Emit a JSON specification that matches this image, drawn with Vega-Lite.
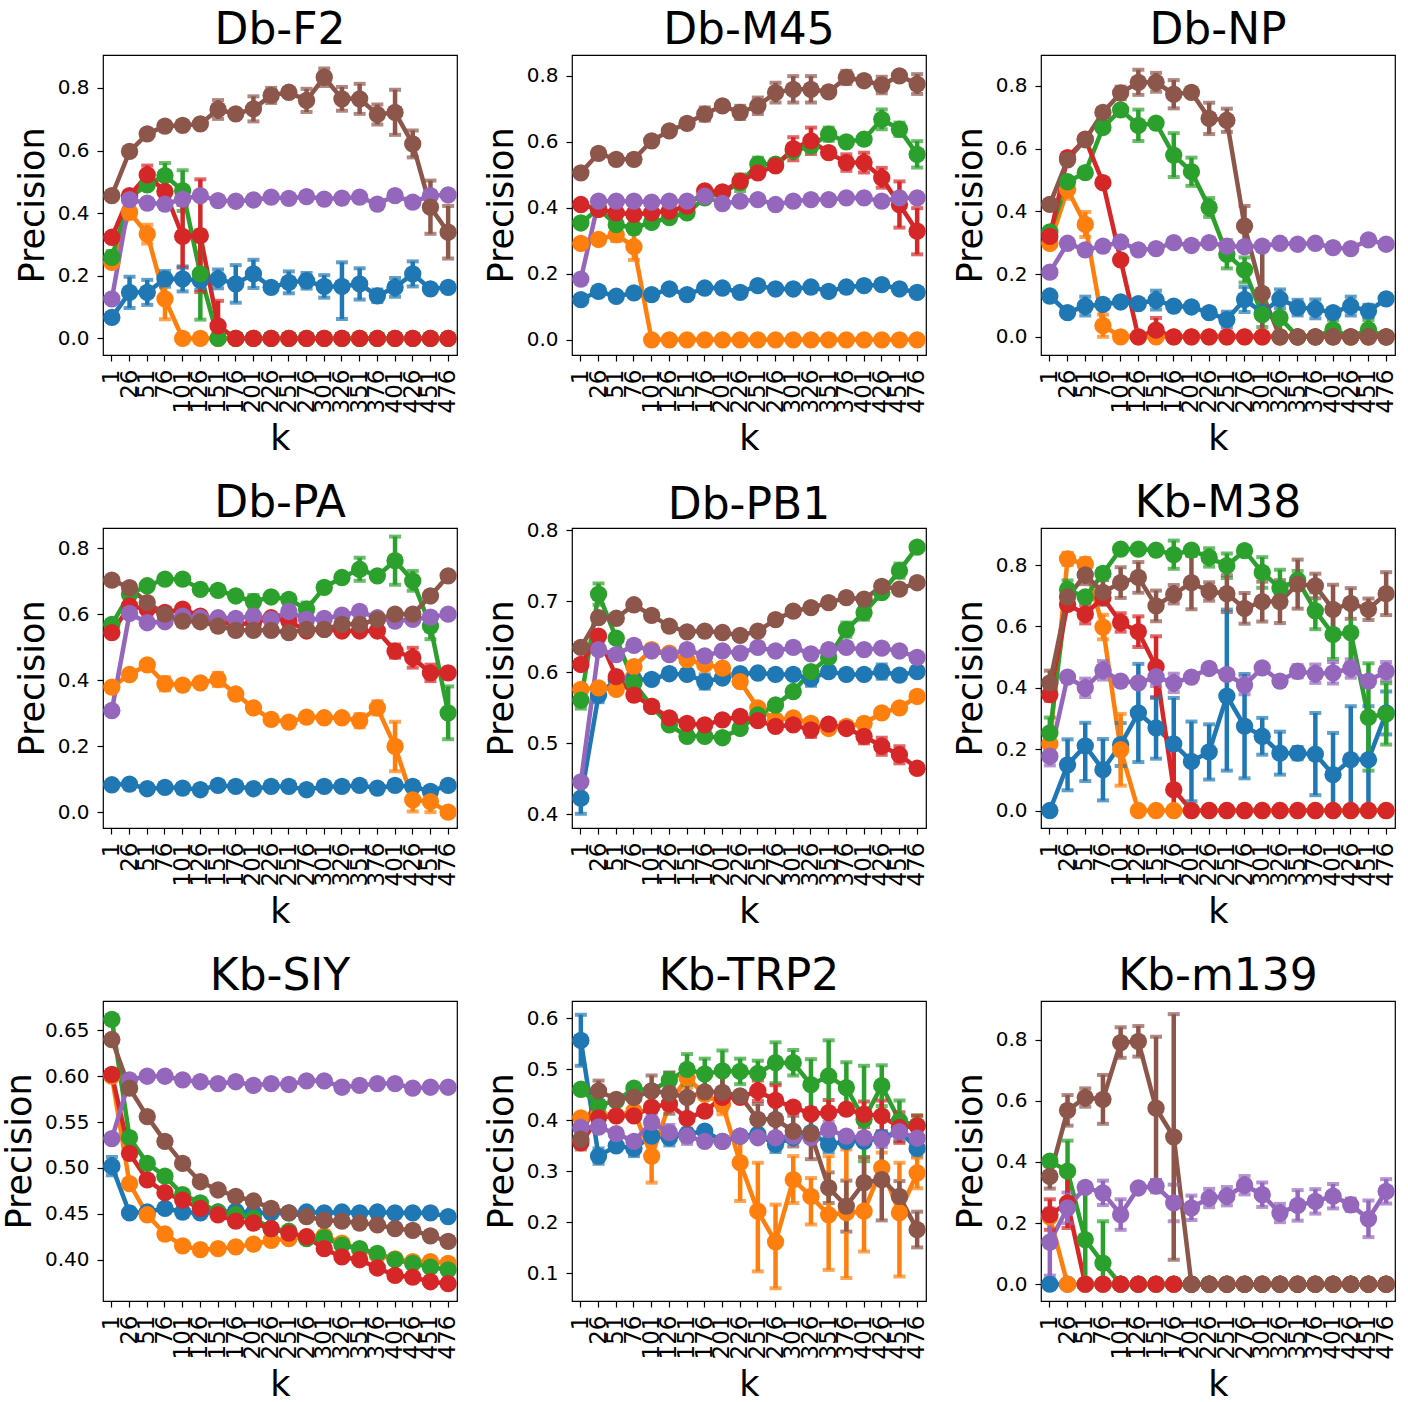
{"$schema":"https://vega.github.io/schema/vega-lite/v6.json","background":"white","padding":{"left":1,"top":8,"right":5,"bottom":3},
"data":{"values":[
{"p":1,"s":1,"k":1,"v":0.067},{"p":1,"s":1,"k":26,"v":0.147,"lo":0.097,"hi":0.197},{"p":1,"s":1,"k":51,"v":0.147,"lo":0.107,"hi":0.187},{"p":1,"s":1,"k":76,"v":0.19,"lo":0.165,"hi":0.215},{"p":1,"s":1,"k":101,"v":0.19,"lo":0.15,"hi":0.23},{"p":1,"s":1,"k":126,"v":0.185,"lo":0.155,"hi":0.215},{"p":1,"s":1,"k":151,"v":0.19,"lo":0.16,"hi":0.22},{"p":1,"s":1,"k":176,"v":0.174,"lo":0.114,"hi":0.234},{"p":1,"s":1,"k":201,"v":0.206,"lo":0.161,"hi":0.251},{"p":1,"s":1,"k":226,"v":0.163},{"p":1,"s":1,"k":251,"v":0.179,"lo":0.144,"hi":0.214},{"p":1,"s":1,"k":276,"v":0.184,"lo":0.159,"hi":0.209},{"p":1,"s":1,"k":301,"v":0.166,"lo":0.13,"hi":0.202},{"p":1,"s":1,"k":326,"v":0.166,"lo":0.062,"hi":0.243},{"p":1,"s":1,"k":351,"v":0.174,"lo":0.124,"hi":0.224},{"p":1,"s":1,"k":376,"v":0.136,"lo":0.116,"hi":0.156},{"p":1,"s":1,"k":401,"v":0.163,"lo":0.133,"hi":0.193},{"p":1,"s":1,"k":426,"v":0.206,"lo":0.166,"hi":0.246},{"p":1,"s":1,"k":451,"v":0.158},{"p":1,"s":1,"k":476,"v":0.163},
{"p":1,"s":2,"k":1,"v":0.243},{"p":1,"s":2,"k":26,"v":0.403,"lo":0.383,"hi":0.423},{"p":1,"s":2,"k":51,"v":0.333,"lo":0.303,"hi":0.363},{"p":1,"s":2,"k":76,"v":0.126,"lo":0.061,"hi":0.191},{"p":1,"s":2,"k":101,"v":0},{"p":1,"s":2,"k":126,"v":0},{"p":1,"s":2,"k":151,"v":0},{"p":1,"s":2,"k":176,"v":0},{"p":1,"s":2,"k":201,"v":0},{"p":1,"s":2,"k":226,"v":0},{"p":1,"s":2,"k":251,"v":0},{"p":1,"s":2,"k":276,"v":0},{"p":1,"s":2,"k":301,"v":0},{"p":1,"s":2,"k":326,"v":0},{"p":1,"s":2,"k":351,"v":0},{"p":1,"s":2,"k":376,"v":0},{"p":1,"s":2,"k":401,"v":0},{"p":1,"s":2,"k":426,"v":0},{"p":1,"s":2,"k":451,"v":0},{"p":1,"s":2,"k":476,"v":0},
{"p":1,"s":3,"k":1,"v":0.259,"lo":0.239,"hi":0.279},{"p":1,"s":3,"k":26,"v":0.45},{"p":1,"s":3,"k":51,"v":0.49},{"p":1,"s":3,"k":76,"v":0.52,"lo":0.48,"hi":0.56},{"p":1,"s":3,"k":101,"v":0.472,"lo":0.407,"hi":0.537},{"p":1,"s":3,"k":126,"v":0.206,"lo":0.06,"hi":0.345},{"p":1,"s":3,"k":151,"v":0},{"p":1,"s":3,"k":176,"v":0},{"p":1,"s":3,"k":201,"v":0},{"p":1,"s":3,"k":226,"v":0},{"p":1,"s":3,"k":251,"v":0},{"p":1,"s":3,"k":276,"v":0},{"p":1,"s":3,"k":301,"v":0},{"p":1,"s":3,"k":326,"v":0},{"p":1,"s":3,"k":351,"v":0},{"p":1,"s":3,"k":376,"v":0},{"p":1,"s":3,"k":401,"v":0},{"p":1,"s":3,"k":426,"v":0},{"p":1,"s":3,"k":451,"v":0},{"p":1,"s":3,"k":476,"v":0},
{"p":1,"s":4,"k":1,"v":0.323},{"p":1,"s":4,"k":26,"v":0.456},{"p":1,"s":4,"k":51,"v":0.522,"lo":0.492,"hi":0.552},{"p":1,"s":4,"k":76,"v":0.469,"lo":0.429,"hi":0.509},{"p":1,"s":4,"k":101,"v":0.326,"lo":0.226,"hi":0.426},{"p":1,"s":4,"k":126,"v":0.328,"lo":0.148,"hi":0.508},{"p":1,"s":4,"k":151,"v":0.04,"lo":0,"hi":0.12},{"p":1,"s":4,"k":176,"v":0},{"p":1,"s":4,"k":201,"v":0},{"p":1,"s":4,"k":226,"v":0},{"p":1,"s":4,"k":251,"v":0},{"p":1,"s":4,"k":276,"v":0},{"p":1,"s":4,"k":301,"v":0},{"p":1,"s":4,"k":326,"v":0},{"p":1,"s":4,"k":351,"v":0},{"p":1,"s":4,"k":376,"v":0},{"p":1,"s":4,"k":401,"v":0},{"p":1,"s":4,"k":426,"v":0},{"p":1,"s":4,"k":451,"v":0},{"p":1,"s":4,"k":476,"v":0},
{"p":1,"s":5,"k":1,"v":0.126},{"p":1,"s":5,"k":26,"v":0.443},{"p":1,"s":5,"k":51,"v":0.432},{"p":1,"s":5,"k":76,"v":0.429},{"p":1,"s":5,"k":101,"v":0.445},{"p":1,"s":5,"k":126,"v":0.456},{"p":1,"s":5,"k":151,"v":0.44},{"p":1,"s":5,"k":176,"v":0.438},{"p":1,"s":5,"k":201,"v":0.442},{"p":1,"s":5,"k":226,"v":0.451},{"p":1,"s":5,"k":251,"v":0.447},{"p":1,"s":5,"k":276,"v":0.453},{"p":1,"s":5,"k":301,"v":0.445},{"p":1,"s":5,"k":326,"v":0.448},{"p":1,"s":5,"k":351,"v":0.451},{"p":1,"s":5,"k":376,"v":0.429},{"p":1,"s":5,"k":401,"v":0.456},{"p":1,"s":5,"k":426,"v":0.435},{"p":1,"s":5,"k":451,"v":0.456},{"p":1,"s":5,"k":476,"v":0.458},
{"p":1,"s":6,"k":1,"v":0.456},{"p":1,"s":6,"k":26,"v":0.597},{"p":1,"s":6,"k":51,"v":0.653},{"p":1,"s":6,"k":76,"v":0.678},{"p":1,"s":6,"k":101,"v":0.68},{"p":1,"s":6,"k":126,"v":0.685},{"p":1,"s":6,"k":151,"v":0.731,"lo":0.701,"hi":0.761},{"p":1,"s":6,"k":176,"v":0.717},{"p":1,"s":6,"k":201,"v":0.733,"lo":0.693,"hi":0.773},{"p":1,"s":6,"k":226,"v":0.776,"lo":0.752,"hi":0.8},{"p":1,"s":6,"k":251,"v":0.786},{"p":1,"s":6,"k":276,"v":0.76,"lo":0.723,"hi":0.797},{"p":1,"s":6,"k":301,"v":0.834,"lo":0.806,"hi":0.862},{"p":1,"s":6,"k":326,"v":0.765,"lo":0.727,"hi":0.803},{"p":1,"s":6,"k":351,"v":0.765,"lo":0.717,"hi":0.813},{"p":1,"s":6,"k":376,"v":0.715,"lo":0.683,"hi":0.747},{"p":1,"s":6,"k":401,"v":0.722,"lo":0.65,"hi":0.794},{"p":1,"s":6,"k":426,"v":0.621,"lo":0.578,"hi":0.664},{"p":1,"s":6,"k":451,"v":0.419,"lo":0.334,"hi":0.504},{"p":1,"s":6,"k":476,"v":0.339,"lo":0.255,"hi":0.423},
{"p":2,"s":1,"k":1,"v":0.122},{"p":2,"s":1,"k":26,"v":0.147},{"p":2,"s":1,"k":51,"v":0.132},{"p":2,"s":1,"k":76,"v":0.142},{"p":2,"s":1,"k":101,"v":0.137},{"p":2,"s":1,"k":126,"v":0.154},{"p":2,"s":1,"k":151,"v":0.137},{"p":2,"s":1,"k":176,"v":0.157},{"p":2,"s":1,"k":201,"v":0.157},{"p":2,"s":1,"k":226,"v":0.144},{"p":2,"s":1,"k":251,"v":0.164},{"p":2,"s":1,"k":276,"v":0.154},{"p":2,"s":1,"k":301,"v":0.154},{"p":2,"s":1,"k":326,"v":0.16},{"p":2,"s":1,"k":351,"v":0.147},{"p":2,"s":1,"k":376,"v":0.16},{"p":2,"s":1,"k":401,"v":0.164},{"p":2,"s":1,"k":426,"v":0.167},{"p":2,"s":1,"k":451,"v":0.154},{"p":2,"s":1,"k":476,"v":0.144},
{"p":2,"s":2,"k":1,"v":0.292},{"p":2,"s":2,"k":26,"v":0.304},{"p":2,"s":2,"k":51,"v":0.319,"lo":0.299,"hi":0.339},{"p":2,"s":2,"k":76,"v":0.282,"lo":0.242,"hi":0.322},{"p":2,"s":2,"k":101,"v":0},{"p":2,"s":2,"k":126,"v":0},{"p":2,"s":2,"k":151,"v":0},{"p":2,"s":2,"k":176,"v":0},{"p":2,"s":2,"k":201,"v":0},{"p":2,"s":2,"k":226,"v":0},{"p":2,"s":2,"k":251,"v":0},{"p":2,"s":2,"k":276,"v":0},{"p":2,"s":2,"k":301,"v":0},{"p":2,"s":2,"k":326,"v":0},{"p":2,"s":2,"k":351,"v":0},{"p":2,"s":2,"k":376,"v":0},{"p":2,"s":2,"k":401,"v":0},{"p":2,"s":2,"k":426,"v":0},{"p":2,"s":2,"k":451,"v":0},{"p":2,"s":2,"k":476,"v":0},
{"p":2,"s":3,"k":1,"v":0.354},{"p":2,"s":3,"k":26,"v":0.397},{"p":2,"s":3,"k":51,"v":0.349},{"p":2,"s":3,"k":76,"v":0.339},{"p":2,"s":3,"k":101,"v":0.356},{"p":2,"s":3,"k":126,"v":0.37},{"p":2,"s":3,"k":151,"v":0.385},{"p":2,"s":3,"k":176,"v":0.43},{"p":2,"s":3,"k":201,"v":0.446},{"p":2,"s":3,"k":226,"v":0.476,"lo":0.451,"hi":0.501},{"p":2,"s":3,"k":251,"v":0.532,"lo":0.512,"hi":0.552},{"p":2,"s":3,"k":276,"v":0.532},{"p":2,"s":3,"k":301,"v":0.572},{"p":2,"s":3,"k":326,"v":0.587},{"p":2,"s":3,"k":351,"v":0.623,"lo":0.603,"hi":0.643},{"p":2,"s":3,"k":376,"v":0.6},{"p":2,"s":3,"k":401,"v":0.608},{"p":2,"s":3,"k":426,"v":0.668,"lo":0.638,"hi":0.698},{"p":2,"s":3,"k":451,"v":0.638,"lo":0.618,"hi":0.658},{"p":2,"s":3,"k":476,"v":0.562,"lo":0.522,"hi":0.602},
{"p":2,"s":4,"k":1,"v":0.41},{"p":2,"s":4,"k":26,"v":0.395},{"p":2,"s":4,"k":51,"v":0.385},{"p":2,"s":4,"k":76,"v":0.38},{"p":2,"s":4,"k":101,"v":0.385},{"p":2,"s":4,"k":126,"v":0.39},{"p":2,"s":4,"k":151,"v":0.405},{"p":2,"s":4,"k":176,"v":0.451},{"p":2,"s":4,"k":201,"v":0.448},{"p":2,"s":4,"k":226,"v":0.481},{"p":2,"s":4,"k":251,"v":0.506},{"p":2,"s":4,"k":276,"v":0.527},{"p":2,"s":4,"k":301,"v":0.579,"lo":0.544,"hi":0.614},{"p":2,"s":4,"k":326,"v":0.603,"lo":0.563,"hi":0.643},{"p":2,"s":4,"k":351,"v":0.567},{"p":2,"s":4,"k":376,"v":0.537,"lo":0.512,"hi":0.562},{"p":2,"s":4,"k":401,"v":0.537,"lo":0.507,"hi":0.567},{"p":2,"s":4,"k":426,"v":0.491,"lo":0.461,"hi":0.521},{"p":2,"s":4,"k":451,"v":0.41,"lo":0.34,"hi":0.48},{"p":2,"s":4,"k":476,"v":0.329,"lo":0.259,"hi":0.399},
{"p":2,"s":5,"k":1,"v":0.184},{"p":2,"s":5,"k":26,"v":0.42},{"p":2,"s":5,"k":51,"v":0.42},{"p":2,"s":5,"k":76,"v":0.42},{"p":2,"s":5,"k":101,"v":0.417},{"p":2,"s":5,"k":126,"v":0.42},{"p":2,"s":5,"k":151,"v":0.42},{"p":2,"s":5,"k":176,"v":0.435},{"p":2,"s":5,"k":201,"v":0.413},{"p":2,"s":5,"k":226,"v":0.42},{"p":2,"s":5,"k":251,"v":0.425},{"p":2,"s":5,"k":276,"v":0.41},{"p":2,"s":5,"k":301,"v":0.42},{"p":2,"s":5,"k":326,"v":0.425},{"p":2,"s":5,"k":351,"v":0.425},{"p":2,"s":5,"k":376,"v":0.43},{"p":2,"s":5,"k":401,"v":0.43},{"p":2,"s":5,"k":426,"v":0.42},{"p":2,"s":5,"k":451,"v":0.43},{"p":2,"s":5,"k":476,"v":0.43},
{"p":2,"s":6,"k":1,"v":0.506},{"p":2,"s":6,"k":26,"v":0.565},{"p":2,"s":6,"k":51,"v":0.547},{"p":2,"s":6,"k":76,"v":0.547},{"p":2,"s":6,"k":101,"v":0.603},{"p":2,"s":6,"k":126,"v":0.633},{"p":2,"s":6,"k":151,"v":0.656},{"p":2,"s":6,"k":176,"v":0.684,"lo":0.664,"hi":0.704},{"p":2,"s":6,"k":201,"v":0.709},{"p":2,"s":6,"k":226,"v":0.689,"lo":0.669,"hi":0.709},{"p":2,"s":6,"k":251,"v":0.709,"lo":0.684,"hi":0.734},{"p":2,"s":6,"k":276,"v":0.749,"lo":0.719,"hi":0.779},{"p":2,"s":6,"k":301,"v":0.759,"lo":0.719,"hi":0.799},{"p":2,"s":6,"k":326,"v":0.759,"lo":0.719,"hi":0.799},{"p":2,"s":6,"k":351,"v":0.751},{"p":2,"s":6,"k":376,"v":0.795,"lo":0.775,"hi":0.815},{"p":2,"s":6,"k":401,"v":0.785},{"p":2,"s":6,"k":426,"v":0.772,"lo":0.747,"hi":0.797},{"p":2,"s":6,"k":451,"v":0.8},{"p":2,"s":6,"k":476,"v":0.775,"lo":0.745,"hi":0.805},
{"p":3,"s":1,"k":1,"v":0.13},{"p":3,"s":1,"k":26,"v":0.077},{"p":3,"s":1,"k":51,"v":0.098,"lo":0.068,"hi":0.128},{"p":3,"s":1,"k":76,"v":0.103},{"p":3,"s":1,"k":101,"v":0.111},{"p":3,"s":1,"k":126,"v":0.106},{"p":3,"s":1,"k":151,"v":0.117,"lo":0.087,"hi":0.147},{"p":3,"s":1,"k":176,"v":0.098},{"p":3,"s":1,"k":201,"v":0.095},{"p":3,"s":1,"k":226,"v":0.077},{"p":3,"s":1,"k":251,"v":0.055,"lo":0.03,"hi":0.08},{"p":3,"s":1,"k":276,"v":0.119,"lo":0.079,"hi":0.159},{"p":3,"s":1,"k":301,"v":0.077},{"p":3,"s":1,"k":326,"v":0.121,"lo":0.091,"hi":0.151},{"p":3,"s":1,"k":351,"v":0.093,"lo":0.068,"hi":0.118},{"p":3,"s":1,"k":376,"v":0.089,"lo":0.059,"hi":0.119},{"p":3,"s":1,"k":401,"v":0.077},{"p":3,"s":1,"k":426,"v":0.098,"lo":0.068,"hi":0.128},{"p":3,"s":1,"k":451,"v":0.082,"lo":0.062,"hi":0.102},{"p":3,"s":1,"k":476,"v":0.121},
{"p":3,"s":2,"k":1,"v":0.298},{"p":3,"s":2,"k":26,"v":0.47,"lo":0.44,"hi":0.5},{"p":3,"s":2,"k":51,"v":0.358,"lo":0.318,"hi":0.398},{"p":3,"s":2,"k":76,"v":0.036,"lo":0,"hi":0.071},{"p":3,"s":2,"k":101,"v":0},{"p":3,"s":2,"k":126,"v":0},{"p":3,"s":2,"k":151,"v":0},{"p":3,"s":2,"k":176,"v":0},{"p":3,"s":2,"k":201,"v":0},{"p":3,"s":2,"k":226,"v":0},{"p":3,"s":2,"k":251,"v":0},{"p":3,"s":2,"k":276,"v":0},{"p":3,"s":2,"k":301,"v":0},{"p":3,"s":2,"k":326,"v":0},{"p":3,"s":2,"k":351,"v":0},{"p":3,"s":2,"k":376,"v":0},{"p":3,"s":2,"k":401,"v":0},{"p":3,"s":2,"k":426,"v":0},{"p":3,"s":2,"k":451,"v":0},{"p":3,"s":2,"k":476,"v":0},
{"p":3,"s":3,"k":1,"v":0.334},{"p":3,"s":3,"k":26,"v":0.494},{"p":3,"s":3,"k":51,"v":0.523},{"p":3,"s":3,"k":76,"v":0.667},{"p":3,"s":3,"k":101,"v":0.723},{"p":3,"s":3,"k":126,"v":0.674,"lo":0.624,"hi":0.724},{"p":3,"s":3,"k":151,"v":0.681},{"p":3,"s":3,"k":176,"v":0.579,"lo":0.509,"hi":0.649},{"p":3,"s":3,"k":201,"v":0.526,"lo":0.481,"hi":0.571},{"p":3,"s":3,"k":226,"v":0.412,"lo":0.382,"hi":0.442},{"p":3,"s":3,"k":251,"v":0.263,"lo":0.218,"hi":0.308},{"p":3,"s":3,"k":276,"v":0.213,"lo":0.173,"hi":0.253},{"p":3,"s":3,"k":301,"v":0.071,"lo":0.031,"hi":0.111},{"p":3,"s":3,"k":326,"v":0.061,"lo":0.011,"hi":0.111},{"p":3,"s":3,"k":351,"v":0},{"p":3,"s":3,"k":376,"v":0},{"p":3,"s":3,"k":401,"v":0.023,"lo":0,"hi":0.053},{"p":3,"s":3,"k":426,"v":0},{"p":3,"s":3,"k":451,"v":0.023,"lo":0,"hi":0.053},{"p":3,"s":3,"k":476,"v":0},
{"p":3,"s":4,"k":1,"v":0.32},{"p":3,"s":4,"k":26,"v":0.571},{"p":3,"s":4,"k":51,"v":0.63},{"p":3,"s":4,"k":76,"v":0.491},{"p":3,"s":4,"k":101,"v":0.245},{"p":3,"s":4,"k":126,"v":0},{"p":3,"s":4,"k":151,"v":0.021,"lo":0,"hi":0.06},{"p":3,"s":4,"k":176,"v":0},{"p":3,"s":4,"k":201,"v":0},{"p":3,"s":4,"k":226,"v":0},{"p":3,"s":4,"k":251,"v":0},{"p":3,"s":4,"k":276,"v":0},{"p":3,"s":4,"k":301,"v":0},{"p":3,"s":4,"k":326,"v":0},{"p":3,"s":4,"k":351,"v":0},{"p":3,"s":4,"k":376,"v":0},{"p":3,"s":4,"k":401,"v":0},{"p":3,"s":4,"k":426,"v":0},{"p":3,"s":4,"k":451,"v":0},{"p":3,"s":4,"k":476,"v":0},
{"p":3,"s":5,"k":1,"v":0.206},{"p":3,"s":5,"k":26,"v":0.298},{"p":3,"s":5,"k":51,"v":0.277},{"p":3,"s":5,"k":76,"v":0.289},{"p":3,"s":5,"k":101,"v":0.302},{"p":3,"s":5,"k":126,"v":0.277},{"p":3,"s":5,"k":151,"v":0.281},{"p":3,"s":5,"k":176,"v":0.3},{"p":3,"s":5,"k":201,"v":0.291},{"p":3,"s":5,"k":226,"v":0.3},{"p":3,"s":5,"k":251,"v":0.289},{"p":3,"s":5,"k":276,"v":0.287},{"p":3,"s":5,"k":301,"v":0.289},{"p":3,"s":5,"k":326,"v":0.298},{"p":3,"s":5,"k":351,"v":0.295},{"p":3,"s":5,"k":376,"v":0.298},{"p":3,"s":5,"k":401,"v":0.284},{"p":3,"s":5,"k":426,"v":0.281},{"p":3,"s":5,"k":451,"v":0.309},{"p":3,"s":5,"k":476,"v":0.295},
{"p":3,"s":6,"k":1,"v":0.422},{"p":3,"s":6,"k":26,"v":0.564},{"p":3,"s":6,"k":51,"v":0.628},{"p":3,"s":6,"k":76,"v":0.715},{"p":3,"s":6,"k":101,"v":0.777,"lo":0.757,"hi":0.797},{"p":3,"s":6,"k":126,"v":0.811,"lo":0.771,"hi":0.851},{"p":3,"s":6,"k":151,"v":0.811,"lo":0.781,"hi":0.841},{"p":3,"s":6,"k":176,"v":0.773,"lo":0.728,"hi":0.818},{"p":3,"s":6,"k":201,"v":0.779},{"p":3,"s":6,"k":226,"v":0.696,"lo":0.646,"hi":0.746},{"p":3,"s":6,"k":251,"v":0.69,"lo":0.653,"hi":0.727},{"p":3,"s":6,"k":276,"v":0.353,"lo":0.289,"hi":0.417},{"p":3,"s":6,"k":301,"v":0.138,"lo":0,"hi":0.3},{"p":3,"s":6,"k":326,"v":0},{"p":3,"s":6,"k":351,"v":0},{"p":3,"s":6,"k":376,"v":0},{"p":3,"s":6,"k":401,"v":0},{"p":3,"s":6,"k":426,"v":0},{"p":3,"s":6,"k":451,"v":0},{"p":3,"s":6,"k":476,"v":0},
{"p":4,"s":1,"k":1,"v":0.083},{"p":4,"s":1,"k":26,"v":0.085},{"p":4,"s":1,"k":51,"v":0.071},{"p":4,"s":1,"k":76,"v":0.075},{"p":4,"s":1,"k":101,"v":0.073},{"p":4,"s":1,"k":126,"v":0.068},{"p":4,"s":1,"k":151,"v":0.081},{"p":4,"s":1,"k":176,"v":0.078},{"p":4,"s":1,"k":201,"v":0.071},{"p":4,"s":1,"k":226,"v":0.078},{"p":4,"s":1,"k":251,"v":0.078},{"p":4,"s":1,"k":276,"v":0.068},{"p":4,"s":1,"k":301,"v":0.078},{"p":4,"s":1,"k":326,"v":0.078},{"p":4,"s":1,"k":351,"v":0.081},{"p":4,"s":1,"k":376,"v":0.073},{"p":4,"s":1,"k":401,"v":0.081},{"p":4,"s":1,"k":426,"v":0.078},{"p":4,"s":1,"k":451,"v":0.063},{"p":4,"s":1,"k":476,"v":0.081},
{"p":4,"s":2,"k":1,"v":0.379},{"p":4,"s":2,"k":26,"v":0.417},{"p":4,"s":2,"k":51,"v":0.446},{"p":4,"s":2,"k":76,"v":0.389,"lo":0.369,"hi":0.409},{"p":4,"s":2,"k":101,"v":0.385},{"p":4,"s":2,"k":126,"v":0.392},{"p":4,"s":2,"k":151,"v":0.402,"lo":0.382,"hi":0.422},{"p":4,"s":2,"k":176,"v":0.358},{"p":4,"s":2,"k":201,"v":0.316},{"p":4,"s":2,"k":226,"v":0.281},{"p":4,"s":2,"k":251,"v":0.273},{"p":4,"s":2,"k":276,"v":0.288},{"p":4,"s":2,"k":301,"v":0.286},{"p":4,"s":2,"k":326,"v":0.286},{"p":4,"s":2,"k":351,"v":0.277,"lo":0.257,"hi":0.297},{"p":4,"s":2,"k":376,"v":0.316,"lo":0.296,"hi":0.336},{"p":4,"s":2,"k":401,"v":0.199,"lo":0.124,"hi":0.274},{"p":4,"s":2,"k":426,"v":0.037,"lo":0.002,"hi":0.072},{"p":4,"s":2,"k":451,"v":0.032,"lo":0,"hi":0.067},{"p":4,"s":2,"k":476,"v":0},
{"p":4,"s":3,"k":1,"v":0.569},{"p":4,"s":3,"k":26,"v":0.66},{"p":4,"s":3,"k":51,"v":0.686},{"p":4,"s":3,"k":76,"v":0.706},{"p":4,"s":3,"k":101,"v":0.706},{"p":4,"s":3,"k":126,"v":0.675},{"p":4,"s":3,"k":151,"v":0.672},{"p":4,"s":3,"k":176,"v":0.655},{"p":4,"s":3,"k":201,"v":0.638,"lo":0.618,"hi":0.658},{"p":4,"s":3,"k":226,"v":0.652},{"p":4,"s":3,"k":251,"v":0.645},{"p":4,"s":3,"k":276,"v":0.615,"lo":0.595,"hi":0.635},{"p":4,"s":3,"k":301,"v":0.681},{"p":4,"s":3,"k":326,"v":0.711},{"p":4,"s":3,"k":351,"v":0.736,"lo":0.701,"hi":0.771},{"p":4,"s":3,"k":376,"v":0.716},{"p":4,"s":3,"k":401,"v":0.762,"lo":0.689,"hi":0.835},{"p":4,"s":3,"k":426,"v":0.701,"lo":0.671,"hi":0.731},{"p":4,"s":3,"k":451,"v":0.564,"lo":0.524,"hi":0.604},{"p":4,"s":3,"k":476,"v":0.301,"lo":0.221,"hi":0.381},
{"p":4,"s":4,"k":1,"v":0.544},{"p":4,"s":4,"k":26,"v":0.625},{"p":4,"s":4,"k":51,"v":0.615},{"p":4,"s":4,"k":76,"v":0.605},{"p":4,"s":4,"k":101,"v":0.615},{"p":4,"s":4,"k":126,"v":0.594},{"p":4,"s":4,"k":151,"v":0.579},{"p":4,"s":4,"k":176,"v":0.569},{"p":4,"s":4,"k":201,"v":0.574},{"p":4,"s":4,"k":226,"v":0.589},{"p":4,"s":4,"k":251,"v":0.579},{"p":4,"s":4,"k":276,"v":0.549},{"p":4,"s":4,"k":301,"v":0.554},{"p":4,"s":4,"k":326,"v":0.549},{"p":4,"s":4,"k":351,"v":0.549},{"p":4,"s":4,"k":376,"v":0.549},{"p":4,"s":4,"k":401,"v":0.488,"lo":0.468,"hi":0.508},{"p":4,"s":4,"k":426,"v":0.468,"lo":0.438,"hi":0.498},{"p":4,"s":4,"k":451,"v":0.422,"lo":0.397,"hi":0.447},{"p":4,"s":4,"k":476,"v":0.422},
{"p":4,"s":5,"k":1,"v":0.308},{"p":4,"s":5,"k":26,"v":0.602},{"p":4,"s":5,"k":51,"v":0.574},{"p":4,"s":5,"k":76,"v":0.577},{"p":4,"s":5,"k":101,"v":0.594},{"p":4,"s":5,"k":126,"v":0.589},{"p":4,"s":5,"k":151,"v":0.589},{"p":4,"s":5,"k":176,"v":0.587},{"p":4,"s":5,"k":201,"v":0.594},{"p":4,"s":5,"k":226,"v":0.584},{"p":4,"s":5,"k":251,"v":0.608},{"p":4,"s":5,"k":276,"v":0.584},{"p":4,"s":5,"k":301,"v":0.587},{"p":4,"s":5,"k":326,"v":0.597},{"p":4,"s":5,"k":351,"v":0.608},{"p":4,"s":5,"k":376,"v":0.589},{"p":4,"s":5,"k":401,"v":0.579},{"p":4,"s":5,"k":426,"v":0.584},{"p":4,"s":5,"k":451,"v":0.591},{"p":4,"s":5,"k":476,"v":0.6},
{"p":4,"s":6,"k":1,"v":0.703},{"p":4,"s":6,"k":26,"v":0.68},{"p":4,"s":6,"k":51,"v":0.635},{"p":4,"s":6,"k":76,"v":0.6},{"p":4,"s":6,"k":101,"v":0.579},{"p":4,"s":6,"k":126,"v":0.577},{"p":4,"s":6,"k":151,"v":0.564},{"p":4,"s":6,"k":176,"v":0.551},{"p":4,"s":6,"k":201,"v":0.551},{"p":4,"s":6,"k":226,"v":0.551},{"p":4,"s":6,"k":251,"v":0.544},{"p":4,"s":6,"k":276,"v":0.554},{"p":4,"s":6,"k":301,"v":0.554},{"p":4,"s":6,"k":326,"v":0.569},{"p":4,"s":6,"k":351,"v":0.569},{"p":4,"s":6,"k":376,"v":0.584},{"p":4,"s":6,"k":401,"v":0.6},{"p":4,"s":6,"k":426,"v":0.6},{"p":4,"s":6,"k":451,"v":0.655},{"p":4,"s":6,"k":476,"v":0.716},
{"p":5,"s":1,"k":1,"v":0.423,"lo":0.401,"hi":0.445},{"p":5,"s":1,"k":26,"v":0.568,"lo":0.558,"hi":0.578},{"p":5,"s":1,"k":51,"v":0.59},{"p":5,"s":1,"k":76,"v":0.59},{"p":5,"s":1,"k":101,"v":0.59},{"p":5,"s":1,"k":126,"v":0.598},{"p":5,"s":1,"k":151,"v":0.597},{"p":5,"s":1,"k":176,"v":0.587,"lo":0.577,"hi":0.597},{"p":5,"s":1,"k":201,"v":0.592},{"p":5,"s":1,"k":226,"v":0.598},{"p":5,"s":1,"k":251,"v":0.599},{"p":5,"s":1,"k":276,"v":0.597},{"p":5,"s":1,"k":301,"v":0.597},{"p":5,"s":1,"k":326,"v":0.591,"lo":0.581,"hi":0.601},{"p":5,"s":1,"k":351,"v":0.601},{"p":5,"s":1,"k":376,"v":0.597},{"p":5,"s":1,"k":401,"v":0.597},{"p":5,"s":1,"k":426,"v":0.601,"lo":0.591,"hi":0.611},{"p":5,"s":1,"k":451,"v":0.596},{"p":5,"s":1,"k":476,"v":0.601},
{"p":5,"s":2,"k":1,"v":0.576},{"p":5,"s":2,"k":26,"v":0.578},{"p":5,"s":2,"k":51,"v":0.576},{"p":5,"s":2,"k":76,"v":0.608},{"p":5,"s":2,"k":101,"v":0.632},{"p":5,"s":2,"k":126,"v":0.627},{"p":5,"s":2,"k":151,"v":0.618},{"p":5,"s":2,"k":176,"v":0.611},{"p":5,"s":2,"k":201,"v":0.606},{"p":5,"s":2,"k":226,"v":0.587},{"p":5,"s":2,"k":251,"v":0.55},{"p":5,"s":2,"k":276,"v":0.533},{"p":5,"s":2,"k":301,"v":0.536},{"p":5,"s":2,"k":326,"v":0.528},{"p":5,"s":2,"k":351,"v":0.521},{"p":5,"s":2,"k":376,"v":0.524},{"p":5,"s":2,"k":401,"v":0.528},{"p":5,"s":2,"k":426,"v":0.543},{"p":5,"s":2,"k":451,"v":0.55},{"p":5,"s":2,"k":476,"v":0.566},
{"p":5,"s":3,"k":1,"v":0.561,"lo":0.549,"hi":0.573},{"p":5,"s":3,"k":26,"v":0.71,"lo":0.695,"hi":0.725},{"p":5,"s":3,"k":51,"v":0.648},{"p":5,"s":3,"k":76,"v":0.585},{"p":5,"s":3,"k":101,"v":0.552},{"p":5,"s":3,"k":126,"v":0.526},{"p":5,"s":3,"k":151,"v":0.51},{"p":5,"s":3,"k":176,"v":0.51},{"p":5,"s":3,"k":201,"v":0.508},{"p":5,"s":3,"k":226,"v":0.521},{"p":5,"s":3,"k":251,"v":0.54},{"p":5,"s":3,"k":276,"v":0.554},{"p":5,"s":3,"k":301,"v":0.573},{"p":5,"s":3,"k":326,"v":0.601},{"p":5,"s":3,"k":351,"v":0.621},{"p":5,"s":3,"k":376,"v":0.66,"lo":0.65,"hi":0.67},{"p":5,"s":3,"k":401,"v":0.684,"lo":0.674,"hi":0.694},{"p":5,"s":3,"k":426,"v":0.712},{"p":5,"s":3,"k":451,"v":0.743,"lo":0.733,"hi":0.753},{"p":5,"s":3,"k":476,"v":0.776},
{"p":5,"s":4,"k":1,"v":0.611},{"p":5,"s":4,"k":26,"v":0.651},{"p":5,"s":4,"k":51,"v":0.594},{"p":5,"s":4,"k":76,"v":0.568},{"p":5,"s":4,"k":101,"v":0.552},{"p":5,"s":4,"k":126,"v":0.536},{"p":5,"s":4,"k":151,"v":0.528},{"p":5,"s":4,"k":176,"v":0.526},{"p":5,"s":4,"k":201,"v":0.533},{"p":5,"s":4,"k":226,"v":0.538},{"p":5,"s":4,"k":251,"v":0.532},{"p":5,"s":4,"k":276,"v":0.524},{"p":5,"s":4,"k":301,"v":0.526},{"p":5,"s":4,"k":326,"v":0.519,"lo":0.509,"hi":0.529},{"p":5,"s":4,"k":351,"v":0.527},{"p":5,"s":4,"k":376,"v":0.521},{"p":5,"s":4,"k":401,"v":0.51,"lo":0.5,"hi":0.52},{"p":5,"s":4,"k":426,"v":0.496,"lo":0.484,"hi":0.508},{"p":5,"s":4,"k":451,"v":0.484,"lo":0.472,"hi":0.496},{"p":5,"s":4,"k":476,"v":0.465},
{"p":5,"s":5,"k":1,"v":0.446},{"p":5,"s":5,"k":26,"v":0.632},{"p":5,"s":5,"k":51,"v":0.625},{"p":5,"s":5,"k":76,"v":0.638},{"p":5,"s":5,"k":101,"v":0.63},{"p":5,"s":5,"k":126,"v":0.625},{"p":5,"s":5,"k":151,"v":0.632},{"p":5,"s":5,"k":176,"v":0.623},{"p":5,"s":5,"k":201,"v":0.63},{"p":5,"s":5,"k":226,"v":0.627},{"p":5,"s":5,"k":251,"v":0.635},{"p":5,"s":5,"k":276,"v":0.63},{"p":5,"s":5,"k":301,"v":0.635},{"p":5,"s":5,"k":326,"v":0.626},{"p":5,"s":5,"k":351,"v":0.632},{"p":5,"s":5,"k":376,"v":0.635},{"p":5,"s":5,"k":401,"v":0.632},{"p":5,"s":5,"k":426,"v":0.634},{"p":5,"s":5,"k":451,"v":0.63},{"p":5,"s":5,"k":476,"v":0.621},
{"p":5,"s":6,"k":1,"v":0.635},{"p":5,"s":6,"k":26,"v":0.677},{"p":5,"s":6,"k":51,"v":0.676},{"p":5,"s":6,"k":76,"v":0.695},{"p":5,"s":6,"k":101,"v":0.68},{"p":5,"s":6,"k":126,"v":0.665},{"p":5,"s":6,"k":151,"v":0.657},{"p":5,"s":6,"k":176,"v":0.658},{"p":5,"s":6,"k":201,"v":0.656},{"p":5,"s":6,"k":226,"v":0.652},{"p":5,"s":6,"k":251,"v":0.658},{"p":5,"s":6,"k":276,"v":0.674},{"p":5,"s":6,"k":301,"v":0.686},{"p":5,"s":6,"k":326,"v":0.691},{"p":5,"s":6,"k":351,"v":0.698},{"p":5,"s":6,"k":376,"v":0.705},{"p":5,"s":6,"k":401,"v":0.703},{"p":5,"s":6,"k":426,"v":0.721},{"p":5,"s":6,"k":451,"v":0.717},{"p":5,"s":6,"k":476,"v":0.726},
{"p":6,"s":1,"k":1,"v":0},{"p":6,"s":1,"k":26,"v":0.149,"lo":0.066,"hi":0.232},{"p":6,"s":1,"k":51,"v":0.211,"lo":0.096,"hi":0.286},{"p":6,"s":1,"k":76,"v":0.133,"lo":0.033,"hi":0.233},{"p":6,"s":1,"k":101,"v":0.215,"lo":0.145,"hi":0.285},{"p":6,"s":1,"k":126,"v":0.318,"lo":0.158,"hi":0.478},{"p":6,"s":1,"k":151,"v":0.269,"lo":0.169,"hi":0.369},{"p":6,"s":1,"k":176,"v":0.217,"lo":0.067,"hi":0.367},{"p":6,"s":1,"k":201,"v":0.16,"lo":0.03,"hi":0.29},{"p":6,"s":1,"k":226,"v":0.191,"lo":0.101,"hi":0.281},{"p":6,"s":1,"k":251,"v":0.373,"lo":0.13,"hi":0.655},{"p":6,"s":1,"k":276,"v":0.275,"lo":0.105,"hi":0.445},{"p":6,"s":1,"k":301,"v":0.242,"lo":0.182,"hi":0.302},{"p":6,"s":1,"k":326,"v":0.187,"lo":0.117,"hi":0.257},{"p":6,"s":1,"k":351,"v":0.187,"lo":0.167,"hi":0.207},{"p":6,"s":1,"k":376,"v":0.184,"lo":0.05,"hi":0.318},{"p":6,"s":1,"k":401,"v":0.117,"lo":0,"hi":0.253},{"p":6,"s":1,"k":426,"v":0.166,"lo":0,"hi":0.34},{"p":6,"s":1,"k":451,"v":0.166,"lo":0,"hi":0.34},{"p":6,"s":1,"k":476,"v":0.318,"lo":0.248,"hi":0.388},
{"p":6,"s":2,"k":1,"v":0.217,"lo":0.197,"hi":0.237},{"p":6,"s":2,"k":26,"v":0.82,"lo":0.8,"hi":0.84},{"p":6,"s":2,"k":51,"v":0.803,"lo":0.783,"hi":0.823},{"p":6,"s":2,"k":76,"v":0.598,"lo":0.558,"hi":0.638},{"p":6,"s":2,"k":101,"v":0.198,"lo":0.081,"hi":0.315},{"p":6,"s":2,"k":126,"v":0},{"p":6,"s":2,"k":151,"v":0},{"p":6,"s":2,"k":176,"v":0},{"p":6,"s":2,"k":201,"v":0},{"p":6,"s":2,"k":226,"v":0},{"p":6,"s":2,"k":251,"v":0},{"p":6,"s":2,"k":276,"v":0},{"p":6,"s":2,"k":301,"v":0},{"p":6,"s":2,"k":326,"v":0},{"p":6,"s":2,"k":351,"v":0},{"p":6,"s":2,"k":376,"v":0},{"p":6,"s":2,"k":401,"v":0},{"p":6,"s":2,"k":426,"v":0},{"p":6,"s":2,"k":451,"v":0},{"p":6,"s":2,"k":476,"v":0},
{"p":6,"s":3,"k":1,"v":0.253,"lo":0.203,"hi":0.303},{"p":6,"s":3,"k":26,"v":0.72,"lo":0.69,"hi":0.75},{"p":6,"s":3,"k":51,"v":0.696},{"p":6,"s":3,"k":76,"v":0.773},{"p":6,"s":3,"k":101,"v":0.852},{"p":6,"s":3,"k":126,"v":0.852},{"p":6,"s":3,"k":151,"v":0.849},{"p":6,"s":3,"k":176,"v":0.834,"lo":0.788,"hi":0.88},{"p":6,"s":3,"k":201,"v":0.849},{"p":6,"s":3,"k":226,"v":0.825,"lo":0.795,"hi":0.855},{"p":6,"s":3,"k":251,"v":0.798,"lo":0.758,"hi":0.838},{"p":6,"s":3,"k":276,"v":0.847},{"p":6,"s":3,"k":301,"v":0.776,"lo":0.726,"hi":0.826},{"p":6,"s":3,"k":326,"v":0.725,"lo":0.665,"hi":0.785},{"p":6,"s":3,"k":351,"v":0.751,"lo":0.721,"hi":0.781},{"p":6,"s":3,"k":376,"v":0.651,"lo":0.591,"hi":0.711},{"p":6,"s":3,"k":401,"v":0.574,"lo":0.494,"hi":0.654},{"p":6,"s":3,"k":426,"v":0.58,"lo":0.48,"hi":0.68},{"p":6,"s":3,"k":451,"v":0.304,"lo":0.13,"hi":0.48},{"p":6,"s":3,"k":476,"v":0.315,"lo":0.215,"hi":0.415},
{"p":6,"s":4,"k":1,"v":0.378,"lo":0.358,"hi":0.398},{"p":6,"s":4,"k":26,"v":0.672},{"p":6,"s":4,"k":51,"v":0.64,"lo":0.61,"hi":0.67},{"p":6,"s":4,"k":76,"v":0.694},{"p":6,"s":4,"k":101,"v":0.613,"lo":0.583,"hi":0.643},{"p":6,"s":4,"k":126,"v":0.583,"lo":0.533,"hi":0.633},{"p":6,"s":4,"k":151,"v":0.468,"lo":0.368,"hi":0.568},{"p":6,"s":4,"k":176,"v":0.068,"lo":0,"hi":0.2},{"p":6,"s":4,"k":201,"v":0},{"p":6,"s":4,"k":226,"v":0},{"p":6,"s":4,"k":251,"v":0},{"p":6,"s":4,"k":276,"v":0},{"p":6,"s":4,"k":301,"v":0},{"p":6,"s":4,"k":326,"v":0},{"p":6,"s":4,"k":351,"v":0},{"p":6,"s":4,"k":376,"v":0},{"p":6,"s":4,"k":401,"v":0},{"p":6,"s":4,"k":426,"v":0},{"p":6,"s":4,"k":451,"v":0},{"p":6,"s":4,"k":476,"v":0},
{"p":6,"s":5,"k":1,"v":0.177,"lo":0.147,"hi":0.207},{"p":6,"s":5,"k":26,"v":0.435},{"p":6,"s":5,"k":51,"v":0.4,"lo":0.37,"hi":0.43},{"p":6,"s":5,"k":76,"v":0.457,"lo":0.427,"hi":0.487},{"p":6,"s":5,"k":101,"v":0.422},{"p":6,"s":5,"k":126,"v":0.416},{"p":6,"s":5,"k":151,"v":0.436,"lo":0.406,"hi":0.466},{"p":6,"s":5,"k":176,"v":0.416,"lo":0.386,"hi":0.446},{"p":6,"s":5,"k":201,"v":0.435},{"p":6,"s":5,"k":226,"v":0.463},{"p":6,"s":5,"k":251,"v":0.444},{"p":6,"s":5,"k":276,"v":0.409,"lo":0.379,"hi":0.439},{"p":6,"s":5,"k":301,"v":0.465},{"p":6,"s":5,"k":326,"v":0.422},{"p":6,"s":5,"k":351,"v":0.454,"lo":0.434,"hi":0.474},{"p":6,"s":5,"k":376,"v":0.446,"lo":0.416,"hi":0.476},{"p":6,"s":5,"k":401,"v":0.449,"lo":0.414,"hi":0.484},{"p":6,"s":5,"k":426,"v":0.463,"lo":0.433,"hi":0.493},{"p":6,"s":5,"k":451,"v":0.422},{"p":6,"s":5,"k":476,"v":0.454,"lo":0.424,"hi":0.484},
{"p":6,"s":6,"k":1,"v":0.416,"lo":0.376,"hi":0.456},{"p":6,"s":6,"k":26,"v":0.696,"lo":0.656,"hi":0.736},{"p":6,"s":6,"k":51,"v":0.768,"lo":0.738,"hi":0.798},{"p":6,"s":6,"k":76,"v":0.711,"lo":0.671,"hi":0.751},{"p":6,"s":6,"k":101,"v":0.743,"lo":0.693,"hi":0.793},{"p":6,"s":6,"k":126,"v":0.76,"lo":0.71,"hi":0.81},{"p":6,"s":6,"k":151,"v":0.667,"lo":0.617,"hi":0.717},{"p":6,"s":6,"k":176,"v":0.705,"lo":0.675,"hi":0.735},{"p":6,"s":6,"k":201,"v":0.743,"lo":0.656,"hi":0.83},{"p":6,"s":6,"k":226,"v":0.714,"lo":0.684,"hi":0.744},{"p":6,"s":6,"k":251,"v":0.707,"lo":0.647,"hi":0.767},{"p":6,"s":6,"k":276,"v":0.659,"lo":0.609,"hi":0.709},{"p":6,"s":6,"k":301,"v":0.681,"lo":0.616,"hi":0.746},{"p":6,"s":6,"k":326,"v":0.681,"lo":0.611,"hi":0.751},{"p":6,"s":6,"k":351,"v":0.738,"lo":0.658,"hi":0.818},{"p":6,"s":6,"k":376,"v":0.732,"lo":0.692,"hi":0.772},{"p":6,"s":6,"k":401,"v":0.656,"lo":0.576,"hi":0.736},{"p":6,"s":6,"k":426,"v":0.675,"lo":0.625,"hi":0.725},{"p":6,"s":6,"k":451,"v":0.656,"lo":0.621,"hi":0.691},{"p":6,"s":6,"k":476,"v":0.707,"lo":0.637,"hi":0.777},
{"p":7,"s":1,"k":1,"v":0.502,"lo":0.492,"hi":0.512},{"p":7,"s":1,"k":26,"v":0.451},{"p":7,"s":1,"k":51,"v":0.452},{"p":7,"s":1,"k":76,"v":0.456},{"p":7,"s":1,"k":101,"v":0.452},{"p":7,"s":1,"k":126,"v":0.451},{"p":7,"s":1,"k":151,"v":0.452},{"p":7,"s":1,"k":176,"v":0.453},{"p":7,"s":1,"k":201,"v":0.451},{"p":7,"s":1,"k":226,"v":0.451},{"p":7,"s":1,"k":251,"v":0.451},{"p":7,"s":1,"k":276,"v":0.452},{"p":7,"s":1,"k":301,"v":0.451},{"p":7,"s":1,"k":326,"v":0.452},{"p":7,"s":1,"k":351,"v":0.451},{"p":7,"s":1,"k":376,"v":0.452},{"p":7,"s":1,"k":401,"v":0.451},{"p":7,"s":1,"k":426,"v":0.451},{"p":7,"s":1,"k":451,"v":0.451},{"p":7,"s":1,"k":476,"v":0.447},
{"p":7,"s":2,"k":1,"v":0.6},{"p":7,"s":2,"k":26,"v":0.483},{"p":7,"s":2,"k":51,"v":0.449},{"p":7,"s":2,"k":76,"v":0.428},{"p":7,"s":2,"k":101,"v":0.415},{"p":7,"s":2,"k":126,"v":0.411},{"p":7,"s":2,"k":151,"v":0.412},{"p":7,"s":2,"k":176,"v":0.414},{"p":7,"s":2,"k":201,"v":0.417},{"p":7,"s":2,"k":226,"v":0.421},{"p":7,"s":2,"k":251,"v":0.423},{"p":7,"s":2,"k":276,"v":0.425},{"p":7,"s":2,"k":301,"v":0.426},{"p":7,"s":2,"k":326,"v":0.418},{"p":7,"s":2,"k":351,"v":0.411},{"p":7,"s":2,"k":376,"v":0.405},{"p":7,"s":2,"k":401,"v":0.401},{"p":7,"s":2,"k":426,"v":0.398},{"p":7,"s":2,"k":451,"v":0.398},{"p":7,"s":2,"k":476,"v":0.396},
{"p":7,"s":3,"k":1,"v":0.662},{"p":7,"s":3,"k":26,"v":0.533},{"p":7,"s":3,"k":51,"v":0.505},{"p":7,"s":3,"k":76,"v":0.491},{"p":7,"s":3,"k":101,"v":0.471},{"p":7,"s":3,"k":126,"v":0.462},{"p":7,"s":3,"k":151,"v":0.452},{"p":7,"s":3,"k":176,"v":0.449},{"p":7,"s":3,"k":201,"v":0.445},{"p":7,"s":3,"k":226,"v":0.434},{"p":7,"s":3,"k":251,"v":0.431},{"p":7,"s":3,"k":276,"v":0.423},{"p":7,"s":3,"k":301,"v":0.424},{"p":7,"s":3,"k":326,"v":0.416},{"p":7,"s":3,"k":351,"v":0.412},{"p":7,"s":3,"k":376,"v":0.407},{"p":7,"s":3,"k":401,"v":0.4},{"p":7,"s":3,"k":426,"v":0.396},{"p":7,"s":3,"k":451,"v":0.392},{"p":7,"s":3,"k":476,"v":0.389},
{"p":7,"s":4,"k":1,"v":0.602},{"p":7,"s":4,"k":26,"v":0.516},{"p":7,"s":4,"k":51,"v":0.487},{"p":7,"s":4,"k":76,"v":0.473},{"p":7,"s":4,"k":101,"v":0.465},{"p":7,"s":4,"k":126,"v":0.456},{"p":7,"s":4,"k":151,"v":0.449},{"p":7,"s":4,"k":176,"v":0.442},{"p":7,"s":4,"k":201,"v":0.44},{"p":7,"s":4,"k":226,"v":0.434},{"p":7,"s":4,"k":251,"v":0.429},{"p":7,"s":4,"k":276,"v":0.425},{"p":7,"s":4,"k":301,"v":0.412},{"p":7,"s":4,"k":326,"v":0.403},{"p":7,"s":4,"k":351,"v":0.4},{"p":7,"s":4,"k":376,"v":0.391},{"p":7,"s":4,"k":401,"v":0.383},{"p":7,"s":4,"k":426,"v":0.381},{"p":7,"s":4,"k":451,"v":0.376},{"p":7,"s":4,"k":476,"v":0.374},
{"p":7,"s":5,"k":1,"v":0.532},{"p":7,"s":5,"k":26,"v":0.596},{"p":7,"s":5,"k":51,"v":0.6},{"p":7,"s":5,"k":76,"v":0.6},{"p":7,"s":5,"k":101,"v":0.596},{"p":7,"s":5,"k":126,"v":0.594},{"p":7,"s":5,"k":151,"v":0.592},{"p":7,"s":5,"k":176,"v":0.594},{"p":7,"s":5,"k":201,"v":0.59},{"p":7,"s":5,"k":226,"v":0.592},{"p":7,"s":5,"k":251,"v":0.591},{"p":7,"s":5,"k":276,"v":0.595},{"p":7,"s":5,"k":301,"v":0.595},{"p":7,"s":5,"k":326,"v":0.588},{"p":7,"s":5,"k":351,"v":0.59},{"p":7,"s":5,"k":376,"v":0.592},{"p":7,"s":5,"k":401,"v":0.592},{"p":7,"s":5,"k":426,"v":0.587},{"p":7,"s":5,"k":451,"v":0.588},{"p":7,"s":5,"k":476,"v":0.588},
{"p":7,"s":6,"k":1,"v":0.64},{"p":7,"s":6,"k":26,"v":0.587},{"p":7,"s":6,"k":51,"v":0.556},{"p":7,"s":6,"k":76,"v":0.529},{"p":7,"s":6,"k":101,"v":0.505},{"p":7,"s":6,"k":126,"v":0.485},{"p":7,"s":6,"k":151,"v":0.476},{"p":7,"s":6,"k":176,"v":0.469},{"p":7,"s":6,"k":201,"v":0.464},{"p":7,"s":6,"k":226,"v":0.456},{"p":7,"s":6,"k":251,"v":0.451},{"p":7,"s":6,"k":276,"v":0.447},{"p":7,"s":6,"k":301,"v":0.443},{"p":7,"s":6,"k":326,"v":0.442},{"p":7,"s":6,"k":351,"v":0.44},{"p":7,"s":6,"k":376,"v":0.438},{"p":7,"s":6,"k":401,"v":0.434},{"p":7,"s":6,"k":426,"v":0.432},{"p":7,"s":6,"k":451,"v":0.426},{"p":7,"s":6,"k":476,"v":0.42},
{"p":8,"s":1,"k":1,"v":0.557,"lo":0.507,"hi":0.607},{"p":8,"s":1,"k":26,"v":0.33,"lo":0.315,"hi":0.345},{"p":8,"s":1,"k":51,"v":0.35},{"p":8,"s":1,"k":76,"v":0.345,"lo":0.33,"hi":0.36},{"p":8,"s":1,"k":101,"v":0.369},{"p":8,"s":1,"k":126,"v":0.366,"lo":0.351,"hi":0.381},{"p":8,"s":1,"k":151,"v":0.373},{"p":8,"s":1,"k":176,"v":0.379},{"p":8,"s":1,"k":201,"v":0.359},{"p":8,"s":1,"k":226,"v":0.369},{"p":8,"s":1,"k":251,"v":0.373},{"p":8,"s":1,"k":276,"v":0.353,"lo":0.338,"hi":0.368},{"p":8,"s":1,"k":301,"v":0.366},{"p":8,"s":1,"k":326,"v":0.376},{"p":8,"s":1,"k":351,"v":0.353,"lo":0.338,"hi":0.368},{"p":8,"s":1,"k":376,"v":0.359},{"p":8,"s":1,"k":401,"v":0.359},{"p":8,"s":1,"k":426,"v":0.366},{"p":8,"s":1,"k":451,"v":0.379},{"p":8,"s":1,"k":476,"v":0.345,"lo":0.33,"hi":0.36},
{"p":8,"s":2,"k":1,"v":0.405},{"p":8,"s":2,"k":26,"v":0.412},{"p":8,"s":2,"k":51,"v":0.409},{"p":8,"s":2,"k":76,"v":0.418},{"p":8,"s":2,"k":101,"v":0.33,"lo":0.278,"hi":0.369},{"p":8,"s":2,"k":126,"v":0.432},{"p":8,"s":2,"k":151,"v":0.484,"lo":0.464,"hi":0.504},{"p":8,"s":2,"k":176,"v":0.451},{"p":8,"s":2,"k":201,"v":0.432,"lo":0.412,"hi":0.452},{"p":8,"s":2,"k":226,"v":0.317,"lo":0.242,"hi":0.373},{"p":8,"s":2,"k":251,"v":0.222,"lo":0.104,"hi":0.317},{"p":8,"s":2,"k":276,"v":0.162,"lo":0.071,"hi":0.235},{"p":8,"s":2,"k":301,"v":0.284,"lo":0.238,"hi":0.33},{"p":8,"s":2,"k":326,"v":0.251,"lo":0.196,"hi":0.287},{"p":8,"s":2,"k":351,"v":0.215,"lo":0.107,"hi":0.33},{"p":8,"s":2,"k":376,"v":0.219,"lo":0.091,"hi":0.343},{"p":8,"s":2,"k":401,"v":0.222,"lo":0.143,"hi":0.327},{"p":8,"s":2,"k":426,"v":0.307,"lo":0.277,"hi":0.337},{"p":8,"s":2,"k":451,"v":0.219,"lo":0.094,"hi":0.317},{"p":8,"s":2,"k":476,"v":0.297,"lo":0.267,"hi":0.327},
{"p":8,"s":3,"k":1,"v":0.461},{"p":8,"s":3,"k":26,"v":0.43},{"p":8,"s":3,"k":51,"v":0.438},{"p":8,"s":3,"k":76,"v":0.463},{"p":8,"s":3,"k":101,"v":0.458},{"p":8,"s":3,"k":126,"v":0.479,"lo":0.464,"hi":0.494},{"p":8,"s":3,"k":151,"v":0.5,"lo":0.47,"hi":0.53},{"p":8,"s":3,"k":176,"v":0.491,"lo":0.461,"hi":0.521},{"p":8,"s":3,"k":201,"v":0.497,"lo":0.457,"hi":0.537},{"p":8,"s":3,"k":226,"v":0.496,"lo":0.471,"hi":0.521},{"p":8,"s":3,"k":251,"v":0.492,"lo":0.467,"hi":0.517},{"p":8,"s":3,"k":276,"v":0.513,"lo":0.473,"hi":0.553},{"p":8,"s":3,"k":301,"v":0.513,"lo":0.488,"hi":0.538},{"p":8,"s":3,"k":326,"v":0.47,"lo":0.42,"hi":0.52},{"p":8,"s":3,"k":351,"v":0.487,"lo":0.417,"hi":0.557},{"p":8,"s":3,"k":376,"v":0.464,"lo":0.414,"hi":0.514},{"p":8,"s":3,"k":401,"v":0.402,"lo":0.32,"hi":0.507},{"p":8,"s":3,"k":426,"v":0.468,"lo":0.428,"hi":0.508},{"p":8,"s":3,"k":451,"v":0.399,"lo":0.359,"hi":0.439},{"p":8,"s":3,"k":476,"v":0.39,"lo":0.37,"hi":0.41},
{"p":8,"s":4,"k":1,"v":0.356},{"p":8,"s":4,"k":26,"v":0.405},{"p":8,"s":4,"k":51,"v":0.409},{"p":8,"s":4,"k":76,"v":0.409},{"p":8,"s":4,"k":101,"v":0.426},{"p":8,"s":4,"k":126,"v":0.432},{"p":8,"s":4,"k":151,"v":0.404},{"p":8,"s":4,"k":176,"v":0.418},{"p":8,"s":4,"k":201,"v":0.445},{"p":8,"s":4,"k":226,"v":0.445},{"p":8,"s":4,"k":251,"v":0.458,"lo":0.438,"hi":0.478},{"p":8,"s":4,"k":276,"v":0.439,"lo":0.409,"hi":0.469},{"p":8,"s":4,"k":301,"v":0.426},{"p":8,"s":4,"k":326,"v":0.413},{"p":8,"s":4,"k":351,"v":0.415,"lo":0.39,"hi":0.44},{"p":8,"s":4,"k":376,"v":0.422},{"p":8,"s":4,"k":401,"v":0.412,"lo":0.387,"hi":0.437},{"p":8,"s":4,"k":426,"v":0.409,"lo":0.379,"hi":0.439},{"p":8,"s":4,"k":451,"v":0.386,"lo":0.356,"hi":0.416},{"p":8,"s":4,"k":476,"v":0.389,"lo":0.369,"hi":0.409},
{"p":8,"s":5,"k":1,"v":0.386,"lo":0.371,"hi":0.401},{"p":8,"s":5,"k":26,"v":0.387},{"p":8,"s":5,"k":51,"v":0.374},{"p":8,"s":5,"k":76,"v":0.359},{"p":8,"s":5,"k":101,"v":0.396,"lo":0.381,"hi":0.411},{"p":8,"s":5,"k":126,"v":0.376,"lo":0.361,"hi":0.391},{"p":8,"s":5,"k":151,"v":0.369,"lo":0.354,"hi":0.384},{"p":8,"s":5,"k":176,"v":0.359},{"p":8,"s":5,"k":201,"v":0.359},{"p":8,"s":5,"k":226,"v":0.369},{"p":8,"s":5,"k":251,"v":0.366},{"p":8,"s":5,"k":276,"v":0.366},{"p":8,"s":5,"k":301,"v":0.369},{"p":8,"s":5,"k":326,"v":0.366},{"p":8,"s":5,"k":351,"v":0.382,"lo":0.367,"hi":0.397},{"p":8,"s":5,"k":376,"v":0.369},{"p":8,"s":5,"k":401,"v":0.366},{"p":8,"s":5,"k":426,"v":0.363,"lo":0.348,"hi":0.378},{"p":8,"s":5,"k":451,"v":0.378,"lo":0.363,"hi":0.393},{"p":8,"s":5,"k":476,"v":0.365},
{"p":8,"s":6,"k":1,"v":0.363,"lo":0.343,"hi":0.383},{"p":8,"s":6,"k":26,"v":0.458,"lo":0.438,"hi":0.478},{"p":8,"s":6,"k":51,"v":0.441},{"p":8,"s":6,"k":76,"v":0.445},{"p":8,"s":6,"k":101,"v":0.458,"lo":0.428,"hi":0.488},{"p":8,"s":6,"k":126,"v":0.453,"lo":0.413,"hi":0.493},{"p":8,"s":6,"k":151,"v":0.445,"lo":0.405,"hi":0.485},{"p":8,"s":6,"k":176,"v":0.456},{"p":8,"s":6,"k":201,"v":0.455,"lo":0.42,"hi":0.49},{"p":8,"s":6,"k":226,"v":0.448},{"p":8,"s":6,"k":251,"v":0.402,"lo":0.372,"hi":0.432},{"p":8,"s":6,"k":276,"v":0.402,"lo":0.372,"hi":0.432},{"p":8,"s":6,"k":301,"v":0.379,"lo":0.349,"hi":0.409},{"p":8,"s":6,"k":326,"v":0.374,"lo":0.324,"hi":0.424},{"p":8,"s":6,"k":351,"v":0.268,"lo":0.238,"hi":0.298},{"p":8,"s":6,"k":376,"v":0.232,"lo":0.182,"hi":0.282},{"p":8,"s":6,"k":401,"v":0.278,"lo":0.228,"hi":0.328},{"p":8,"s":6,"k":426,"v":0.284,"lo":0.204,"hi":0.364},{"p":8,"s":6,"k":451,"v":0.251,"lo":0.221,"hi":0.281},{"p":8,"s":6,"k":476,"v":0.186,"lo":0.151,"hi":0.221},
{"p":9,"s":1,"k":1,"v":0},{"p":9,"s":1,"k":26,"v":0},{"p":9,"s":1,"k":51,"v":0},{"p":9,"s":1,"k":76,"v":0},{"p":9,"s":1,"k":101,"v":0},{"p":9,"s":1,"k":126,"v":0},{"p":9,"s":1,"k":151,"v":0},{"p":9,"s":1,"k":176,"v":0},{"p":9,"s":1,"k":201,"v":0},{"p":9,"s":1,"k":226,"v":0},{"p":9,"s":1,"k":251,"v":0},{"p":9,"s":1,"k":276,"v":0},{"p":9,"s":1,"k":301,"v":0},{"p":9,"s":1,"k":326,"v":0},{"p":9,"s":1,"k":351,"v":0},{"p":9,"s":1,"k":376,"v":0},{"p":9,"s":1,"k":401,"v":0},{"p":9,"s":1,"k":426,"v":0},{"p":9,"s":1,"k":451,"v":0},{"p":9,"s":1,"k":476,"v":0},
{"p":9,"s":2,"k":1,"v":0.22},{"p":9,"s":2,"k":26,"v":0},{"p":9,"s":2,"k":51,"v":0},{"p":9,"s":2,"k":76,"v":0},{"p":9,"s":2,"k":101,"v":0},{"p":9,"s":2,"k":126,"v":0},{"p":9,"s":2,"k":151,"v":0},{"p":9,"s":2,"k":176,"v":0},{"p":9,"s":2,"k":201,"v":0},{"p":9,"s":2,"k":226,"v":0},{"p":9,"s":2,"k":251,"v":0},{"p":9,"s":2,"k":276,"v":0},{"p":9,"s":2,"k":301,"v":0},{"p":9,"s":2,"k":326,"v":0},{"p":9,"s":2,"k":351,"v":0},{"p":9,"s":2,"k":376,"v":0},{"p":9,"s":2,"k":401,"v":0},{"p":9,"s":2,"k":426,"v":0},{"p":9,"s":2,"k":451,"v":0},{"p":9,"s":2,"k":476,"v":0},
{"p":9,"s":3,"k":1,"v":0.403},{"p":9,"s":3,"k":26,"v":0.37,"lo":0.27,"hi":0.47},{"p":9,"s":3,"k":51,"v":0.146,"lo":0,"hi":0.315},{"p":9,"s":3,"k":76,"v":0.069,"lo":0,"hi":0.206},{"p":9,"s":3,"k":101,"v":0},{"p":9,"s":3,"k":126,"v":0},{"p":9,"s":3,"k":151,"v":0},{"p":9,"s":3,"k":176,"v":0},{"p":9,"s":3,"k":201,"v":0},{"p":9,"s":3,"k":226,"v":0},{"p":9,"s":3,"k":251,"v":0},{"p":9,"s":3,"k":276,"v":0},{"p":9,"s":3,"k":301,"v":0},{"p":9,"s":3,"k":326,"v":0},{"p":9,"s":3,"k":351,"v":0},{"p":9,"s":3,"k":376,"v":0},{"p":9,"s":3,"k":401,"v":0},{"p":9,"s":3,"k":426,"v":0},{"p":9,"s":3,"k":451,"v":0},{"p":9,"s":3,"k":476,"v":0},
{"p":9,"s":4,"k":1,"v":0.228,"lo":0.178,"hi":0.278},{"p":9,"s":4,"k":26,"v":0.266,"lo":0.184,"hi":0.364},{"p":9,"s":4,"k":51,"v":0},{"p":9,"s":4,"k":76,"v":0},{"p":9,"s":4,"k":101,"v":0},{"p":9,"s":4,"k":126,"v":0},{"p":9,"s":4,"k":151,"v":0},{"p":9,"s":4,"k":176,"v":0},{"p":9,"s":4,"k":201,"v":0},{"p":9,"s":4,"k":226,"v":0},{"p":9,"s":4,"k":251,"v":0},{"p":9,"s":4,"k":276,"v":0},{"p":9,"s":4,"k":301,"v":0},{"p":9,"s":4,"k":326,"v":0},{"p":9,"s":4,"k":351,"v":0},{"p":9,"s":4,"k":376,"v":0},{"p":9,"s":4,"k":401,"v":0},{"p":9,"s":4,"k":426,"v":0},{"p":9,"s":4,"k":451,"v":0},{"p":9,"s":4,"k":476,"v":0},
{"p":9,"s":5,"k":1,"v":0.138,"lo":0.028,"hi":0.248},{"p":9,"s":5,"k":26,"v":0.25,"lo":0.2,"hi":0.3},{"p":9,"s":5,"k":51,"v":0.317},{"p":9,"s":5,"k":76,"v":0.299,"lo":0.259,"hi":0.339},{"p":9,"s":5,"k":101,"v":0.228,"lo":0.178,"hi":0.278},{"p":9,"s":5,"k":126,"v":0.315},{"p":9,"s":5,"k":151,"v":0.321,"lo":0.301,"hi":0.341},{"p":9,"s":5,"k":176,"v":0.266,"lo":0.206,"hi":0.326},{"p":9,"s":5,"k":201,"v":0.25,"lo":0.21,"hi":0.29},{"p":9,"s":5,"k":226,"v":0.282,"lo":0.252,"hi":0.312},{"p":9,"s":5,"k":251,"v":0.288,"lo":0.258,"hi":0.318},{"p":9,"s":5,"k":276,"v":0.324,"lo":0.294,"hi":0.354},{"p":9,"s":5,"k":301,"v":0.293,"lo":0.253,"hi":0.333},{"p":9,"s":5,"k":326,"v":0.233,"lo":0.203,"hi":0.263},{"p":9,"s":5,"k":351,"v":0.258,"lo":0.208,"hi":0.308},{"p":9,"s":5,"k":376,"v":0.271,"lo":0.231,"hi":0.311},{"p":9,"s":5,"k":401,"v":0.288,"lo":0.248,"hi":0.328},{"p":9,"s":5,"k":426,"v":0.26,"lo":0.24,"hi":0.28},{"p":9,"s":5,"k":451,"v":0.214,"lo":0.154,"hi":0.274},{"p":9,"s":5,"k":476,"v":0.304,"lo":0.264,"hi":0.344},
{"p":9,"s":6,"k":1,"v":0.353,"lo":0.313,"hi":0.393},{"p":9,"s":6,"k":26,"v":0.569,"lo":0.519,"hi":0.619},{"p":9,"s":6,"k":51,"v":0.611,"lo":0.581,"hi":0.641},{"p":9,"s":6,"k":76,"v":0.605,"lo":0.525,"hi":0.685},{"p":9,"s":6,"k":101,"v":0.791,"lo":0.741,"hi":0.841},{"p":9,"s":6,"k":126,"v":0.795,"lo":0.745,"hi":0.845},{"p":9,"s":6,"k":151,"v":0.576,"lo":0.34,"hi":0.81},{"p":9,"s":6,"k":176,"v":0.482,"lo":0.08,"hi":0.884},{"p":9,"s":6,"k":201,"v":0},{"p":9,"s":6,"k":226,"v":0},{"p":9,"s":6,"k":251,"v":0},{"p":9,"s":6,"k":276,"v":0},{"p":9,"s":6,"k":301,"v":0},{"p":9,"s":6,"k":326,"v":0},{"p":9,"s":6,"k":351,"v":0},{"p":9,"s":6,"k":376,"v":0},{"p":9,"s":6,"k":401,"v":0},{"p":9,"s":6,"k":426,"v":0},{"p":9,"s":6,"k":451,"v":0},{"p":9,"s":6,"k":476,"v":0}
]},
"columns":3,"spacing":{"row":173,"column":115},"bounds":"flush","align":"all",
"concat":[
{"title":"Db-F2","width":354,"height":300,"transform":[{"filter":"datum.p==1"}],"encoding":{"x":{"field":"k","type":"ordinal","title":"k"},"y":{"field":"v","type":"quantitative","title":"Precision","scale":{"domain":[-0.053,0.905],"nice":false,"zero":false}},"color":{"field":"s","type":"nominal","legend":null}},"layer":[{"mark":{"type":"line","strokeWidth":4.5}},{"transform":[{"filter":"isValid(datum.lo)"}],"mark":{"type":"errorbar","thickness":4.5,"ticks":{"size":12,"thickness":4}},"encoding":{"y":{"field":"lo","type":"quantitative","title":"Precision","scale":{"domain":[-0.053,0.905],"nice":false,"zero":false}},"y2":{"field":"hi"}}},{"mark":{"type":"point","filled":true,"size":300,"opacity":1}}]},
{"title":"Db-M45","width":354,"height":300,"transform":[{"filter":"datum.p==2"}],"encoding":{"x":{"field":"k","type":"ordinal","title":"k"},"y":{"field":"v","type":"quantitative","title":"Precision","scale":{"domain":[-0.046,0.863],"nice":false,"zero":false}},"color":{"field":"s","type":"nominal","legend":null}},"layer":[{"mark":{"type":"line","strokeWidth":4.5}},{"transform":[{"filter":"isValid(datum.lo)"}],"mark":{"type":"errorbar","thickness":4.5,"ticks":{"size":12,"thickness":4}},"encoding":{"y":{"field":"lo","type":"quantitative","title":"Precision","scale":{"domain":[-0.046,0.863],"nice":false,"zero":false}},"y2":{"field":"hi"}}},{"mark":{"type":"point","filled":true,"size":300,"opacity":1}}]},
{"title":"Db-NP","width":354,"height":300,"transform":[{"filter":"datum.p==3"}],"encoding":{"x":{"field":"k","type":"ordinal","title":"k"},"y":{"field":"v","type":"quantitative","title":"Precision","scale":{"domain":[-0.058,0.898],"nice":false,"zero":false}},"color":{"field":"s","type":"nominal","legend":null}},"layer":[{"mark":{"type":"line","strokeWidth":4.5}},{"transform":[{"filter":"isValid(datum.lo)"}],"mark":{"type":"errorbar","thickness":4.5,"ticks":{"size":12,"thickness":4}},"encoding":{"y":{"field":"lo","type":"quantitative","title":"Precision","scale":{"domain":[-0.058,0.898],"nice":false,"zero":false}},"y2":{"field":"hi"}}},{"mark":{"type":"point","filled":true,"size":300,"opacity":1}}]},
{"title":"Db-PA","width":354,"height":300,"transform":[{"filter":"datum.p==4"}],"encoding":{"x":{"field":"k","type":"ordinal","title":"k"},"y":{"field":"v","type":"quantitative","title":"Precision","scale":{"domain":[-0.048,0.861],"nice":false,"zero":false}},"color":{"field":"s","type":"nominal","legend":null}},"layer":[{"mark":{"type":"line","strokeWidth":4.5}},{"transform":[{"filter":"isValid(datum.lo)"}],"mark":{"type":"errorbar","thickness":4.5,"ticks":{"size":12,"thickness":4}},"encoding":{"y":{"field":"lo","type":"quantitative","title":"Precision","scale":{"domain":[-0.048,0.861],"nice":false,"zero":false}},"y2":{"field":"hi"}}},{"mark":{"type":"point","filled":true,"size":300,"opacity":1}}]},
{"title":{"text":"Db-PB1","offset":-8},"width":354,"height":300,"transform":[{"filter":"datum.p==5"}],"encoding":{"x":{"field":"k","type":"ordinal","title":"k"},"y":{"field":"v","type":"quantitative","title":"Precision","scale":{"domain":[0.381,0.803],"nice":false,"zero":false}},"color":{"field":"s","type":"nominal","legend":null}},"layer":[{"mark":{"type":"line","strokeWidth":4.5}},{"transform":[{"filter":"isValid(datum.lo)"}],"mark":{"type":"errorbar","thickness":4.5,"ticks":{"size":12,"thickness":4}},"encoding":{"y":{"field":"lo","type":"quantitative","title":"Precision","scale":{"domain":[0.381,0.803],"nice":false,"zero":false}},"y2":{"field":"hi"}}},{"mark":{"type":"point","filled":true,"size":300,"opacity":1}}]},
{"title":"Kb-M38","width":354,"height":300,"transform":[{"filter":"datum.p==6"}],"encoding":{"x":{"field":"k","type":"ordinal","title":"k"},"y":{"field":"v","type":"quantitative","title":"Precision","scale":{"domain":[-0.057,0.921],"nice":false,"zero":false}},"color":{"field":"s","type":"nominal","legend":null}},"layer":[{"mark":{"type":"line","strokeWidth":4.5}},{"transform":[{"filter":"isValid(datum.lo)"}],"mark":{"type":"errorbar","thickness":4.5,"ticks":{"size":12,"thickness":4}},"encoding":{"y":{"field":"lo","type":"quantitative","title":"Precision","scale":{"domain":[-0.057,0.921],"nice":false,"zero":false}},"y2":{"field":"hi"}}},{"mark":{"type":"point","filled":true,"size":300,"opacity":1}}]},
{"title":"Kb-SIY","width":354,"height":300,"transform":[{"filter":"datum.p==7"}],"encoding":{"x":{"field":"k","type":"ordinal","title":"k"},"y":{"field":"v","type":"quantitative","title":"Precision","scale":{"domain":[0.355,0.682],"nice":false,"zero":false}},"color":{"field":"s","type":"nominal","legend":null}},"layer":[{"mark":{"type":"line","strokeWidth":4.5}},{"transform":[{"filter":"isValid(datum.lo)"}],"mark":{"type":"errorbar","thickness":4.5,"ticks":{"size":12,"thickness":4}},"encoding":{"y":{"field":"lo","type":"quantitative","title":"Precision","scale":{"domain":[0.355,0.682],"nice":false,"zero":false}},"y2":{"field":"hi"}}},{"mark":{"type":"point","filled":true,"size":300,"opacity":1}}]},
{"title":"Kb-TRP2","width":354,"height":300,"transform":[{"filter":"datum.p==8"}],"encoding":{"x":{"field":"k","type":"ordinal","title":"k"},"y":{"field":"v","type":"quantitative","title":"Precision","scale":{"domain":[0.046,0.634],"nice":false,"zero":false}},"color":{"field":"s","type":"nominal","legend":null}},"layer":[{"mark":{"type":"line","strokeWidth":4.5}},{"transform":[{"filter":"isValid(datum.lo)"}],"mark":{"type":"errorbar","thickness":4.5,"ticks":{"size":12,"thickness":4}},"encoding":{"y":{"field":"lo","type":"quantitative","title":"Precision","scale":{"domain":[0.046,0.634],"nice":false,"zero":false}},"y2":{"field":"hi"}}},{"mark":{"type":"point","filled":true,"size":300,"opacity":1}}]},
{"title":"Kb-m139","width":354,"height":300,"transform":[{"filter":"datum.p==9"}],"encoding":{"x":{"field":"k","type":"ordinal","title":"k"},"y":{"field":"v","type":"quantitative","title":"Precision","scale":{"domain":[-0.055,0.927],"nice":false,"zero":false}},"color":{"field":"s","type":"nominal","legend":null}},"layer":[{"mark":{"type":"line","strokeWidth":4.5}},{"transform":[{"filter":"isValid(datum.lo)"}],"mark":{"type":"errorbar","thickness":4.5,"ticks":{"size":12,"thickness":4}},"encoding":{"y":{"field":"lo","type":"quantitative","title":"Precision","scale":{"domain":[-0.055,0.927],"nice":false,"zero":false}},"y2":{"field":"hi"}}},{"mark":{"type":"point","filled":true,"size":300,"opacity":1}}]}
],
"config":{"font":"DejaVu Sans","view":{"stroke":"black","strokeWidth":1.2},
"range":{"category":["#1f77b4","#ff7f0e","#2ca02c","#d62728","#9467bd","#8c564b"]},
"scale":{"pointPadding":0.5},
"title":{"font":"DejaVu Sans","fontSize":44,"fontWeight":"normal","color":"black","anchor":"middle","frame":"group","baseline":"alphabetic","offset":2},
"axis":{"grid":false,"domain":false,"labelFont":"DejaVu Sans","labelFontSize":20,"labelColor":"black","titleFont":"DejaVu Sans","titleFontSize":35,"titleFontWeight":"normal","titleColor":"black","tickColor":"black","tickSize":6,"tickWidth":1.2},
"axisY":{"tickCount":5,"labelPadding":8,"titlePadding":7},
"axisX":{"labelAngle":-90,"labelOverlap":false,"labelFontSize":23,"labelPadding":8,"titlePadding":9}}}
